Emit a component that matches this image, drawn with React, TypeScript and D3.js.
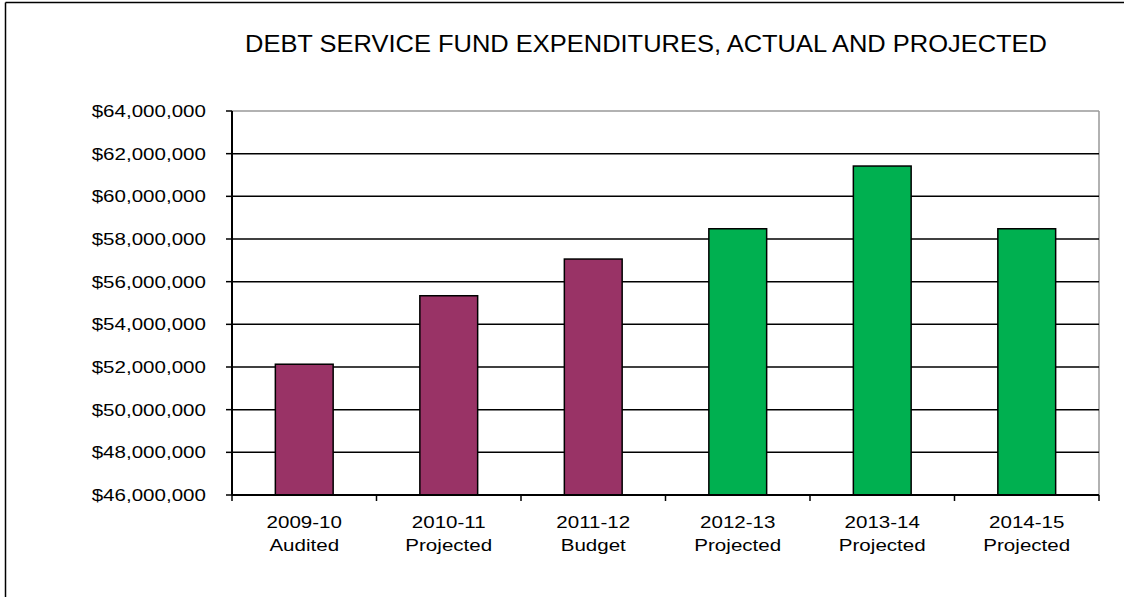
import React from "react";
import * as d3 from "d3";

const categories = ["2009-10|Audited", "2010-11|Projected", "2011-12|Budget", "2012-13|Projected", "2013-14|Projected", "2014-15|Projected"];
const values = [52130000, 55340000, 57060000, 58480000, 61420000, 58480000];
const barColors = ["#993366", "#993366", "#993366", "#00B050", "#00B050", "#00B050"];
const yTicks = [46000000, 48000000, 50000000, 52000000, 54000000, 56000000, 58000000, 60000000, 62000000, 64000000];
const title = "DEBT SERVICE FUND EXPENDITURES, ACTUAL AND PROJECTED";

export default function App() {
  const W = 1124, H = 597;
  const left = 232, right = 1099, top = 111, bottom = 495;
  const x = d3.scaleBand<string>().domain(categories).range([left, right]).paddingInner(0.6).paddingOuter(0.3);
  const xb = d3.scaleBand<string>().domain(categories).range([left, right]);
  const y = d3.scaleLinear().domain([46000000, 64000000]).range([bottom, top]);
  const fmt = (v: number) => "$" + d3.format(",")(v);
  const font = "Liberation Sans, Arial, sans-serif";
  const sx = 1.21;
  return (
    <svg width={W} height={H} style={{ position: "absolute", left: 0, top: 0, background: "#fff" }} fontFamily={font}>
      <rect x={0} y={0} width={W} height={H} fill="#fff" />
      <line x1={5.5} y1={2.5} x2={W} y2={2.5} stroke="#000" strokeWidth={1.5} />
      <line x1={5.5} y1={2.5} x2={5.5} y2={H} stroke="#000" strokeWidth={1.5} />
      <text x={646} y={52} textAnchor="middle" fontSize={23.5} textLength={802} lengthAdjust="spacingAndGlyphs" fill="#000">{title}</text>
      <line x1={left} y1={top} x2={right} y2={top} stroke="#999" strokeWidth={1.5} />
      <line x1={right} y1={top} x2={right} y2={bottom} stroke="#999" strokeWidth={1.5} />
      {yTicks.map((t) => (
        <g key={t}>
          {t !== 46000000 && t !== 64000000 && (
            <line x1={left} x2={right} y1={y(t)} y2={y(t)} stroke="#000" strokeWidth={1.5} />
          )}
          <line x1={left - 6} x2={left} y1={y(t)} y2={y(t)} stroke="#000" strokeWidth={1.5} />
          <text transform={`translate(206,${y(t) + 6}) scale(${sx},1)`} textAnchor="end" fontSize={17} fill="#000">{fmt(t)}</text>
        </g>
      ))}
      {categories.map((c, i) => (
        <rect key={c} x={x(c)!} y={y(values[i])} width={x.bandwidth()} height={bottom - y(values[i])} fill={barColors[i]} stroke="#000" strokeWidth={1.5} />
      ))}
      <line x1={left} x2={left} y1={top} y2={bottom} stroke="#000" strokeWidth={2} />
      <line x1={left} x2={right} y1={bottom} y2={bottom} stroke="#000" strokeWidth={2} />
      {categories.map((c) => (
        <line key={"t" + c} x1={xb(c)!} x2={xb(c)!} y1={bottom} y2={bottom + 6} stroke="#000" strokeWidth={1.5} />
      ))}
      <line x1={right} x2={right} y1={bottom} y2={bottom + 6} stroke="#000" strokeWidth={1.5} />
      {categories.map((c) => {
        const [a, b] = c.split("|");
        const cx = xb(c)! + xb.bandwidth() / 2;
        return (
          <g key={"l" + c}>
            <text transform={`translate(${cx},528) scale(${sx},1)`} textAnchor="middle" fontSize={17} fill="#000">{a}</text>
            <text transform={`translate(${cx},551) scale(${sx},1)`} textAnchor="middle" fontSize={17} fill="#000">{b}</text>
          </g>
        );
      })}
    </svg>
  );
}
